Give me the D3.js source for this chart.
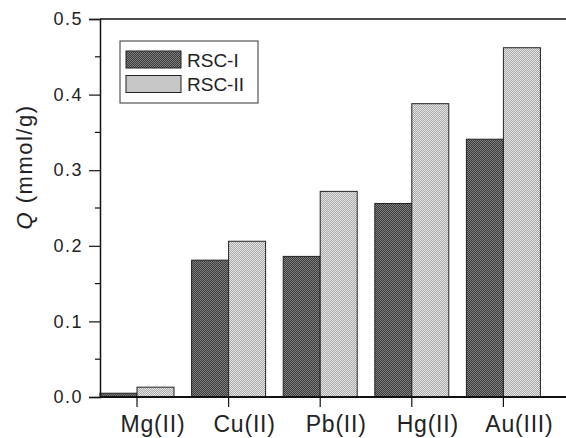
<!DOCTYPE html>
<html>
<head>
<meta charset="utf-8">
<script src="https://cdn.jsdelivr.net/npm/d3@7"></script>
<style>
  body { margin: 0; background: #fff; }
  svg { display: block; font-family: "Liberation Sans", Arial, sans-serif; }
</style>
</head>
<body>
<svg id="chart" width="566" height="438"></svg>
<script>
// data
var metals = ["Mg(II)", "Cu(II)", "Pb(II)", "Hg(II)", "Au(III)"];
var rsc1 = [0.005, 0.181, 0.186, 0.256, 0.341];
var rsc2 = [0.013, 0.206, 0.272, 0.388, 0.462];
var seriesNames = ["RSC-I", "RSC-II"];
var yTicks = [0, 0.1, 0.2, 0.3, 0.4, 0.5];
var yMinor = [0.05, 0.15, 0.25, 0.35, 0.45];

var svg = d3.select("svg#chart");

// note: "top" is taken by window.top, so plot edges get their own names
var plotLeft = 100, plotTop = 19, plotBottom = 397, plotRight = 566;
var barW = 37;

var y = d3.scaleLinear().domain([0, 0.5]).range([plotBottom, plotTop]);
var x = d3.scaleLinear().domain([0, metals.length - 1]).range([137, 503.4]);

// halftone-ish fills, like the scanned print
var defs = svg.append("defs");
function dither(id, c1, c2){
  var p = defs.append("pattern")
    .attr("id", id)
    .attr("patternUnits", "userSpaceOnUse")
    .attr("width", 2).attr("height", 2);
  p.append("rect").attr("width", 2).attr("height", 2).attr("fill", c1);
  p.append("rect").attr("width", 1).attr("height", 1).attr("fill", c2);
  p.append("rect").attr("x", 1).attr("y", 1).attr("width", 1).attr("height", 1).attr("fill", c2);
}
dither("darkFill", "#3a3a3a", "#808080");
dither("lightFill", "#a8a8a8", "#e6e6e6");
var fills = ["url(#darkFill)", "url(#lightFill)"];

// bars
var groups = [rsc1, rsc2];
groups.forEach(function(vals, s){
  svg.selectAll("rect.bar" + s)
    .data(vals)
    .enter().append("rect")
    .attr("class", "bar" + s)
    .attr("x", (d, i) => x(i) + (s - 1) * barW)
    .attr("y", d => y(d))
    .attr("width", barW)
    .attr("height", d => y(0) - y(d))
    .attr("fill", fills[s])
    .attr("stroke", "#222")
    .attr("stroke-width", 1);
});

// frame: top and bottom run off the right edge
svg.append("line")
  .attr("x1", plotLeft).attr("x2", plotRight).attr("y1", plotTop).attr("y2", plotTop)
  .attr("stroke", "#111").attr("stroke-width", 1.5);
svg.append("line")
  .attr("x1", plotLeft).attr("x2", plotRight).attr("y1", plotBottom).attr("y2", plotBottom)
  .attr("stroke", "#111").attr("stroke-width", 2);

// y axis
var yAxis = svg.append("g")
  .attr("transform", "translate(" + plotLeft + ",0)")
  .call(d3.axisLeft(y).tickValues(yTicks).tickFormat(d3.format(".1f")).tickSize(11).tickPadding(6));
yAxis.select(".domain").attr("stroke", "#111").attr("stroke-width", 1.5);
yAxis.selectAll(".tick line").attr("stroke", "#111").attr("stroke-width", 1.2);
yAxis.selectAll(".tick text")
  .attr("font-size", 18)
  .attr("letter-spacing", 1.5)
  .attr("fill", "#222")
  .attr("font-family", "Liberation Sans, Arial, sans-serif");

svg.selectAll("line.yminor")
  .data(yMinor)
  .enter().append("line")
  .attr("class", "yminor")
  .attr("x1", plotLeft - 5).attr("x2", plotLeft)
  .attr("y1", d => y(d)).attr("y2", d => y(d))
  .attr("stroke", "#111").attr("stroke-width", 1.2);

// x ticks + labels (labels sit a bit right of the ticks in the original)
svg.selectAll("line.xtick")
  .data(metals)
  .enter().append("line")
  .attr("class", "xtick")
  .attr("x1", (d, i) => x(i)).attr("x2", (d, i) => x(i))
  .attr("y1", plotBottom).attr("y2", plotBottom + 10)
  .attr("stroke", "#111").attr("stroke-width", 1.2);

svg.selectAll("text.xlabel")
  .data(metals)
  .enter().append("text")
  .attr("class", "xlabel")
  .attr("x", (d, i) => x(i) + 16)
  .attr("y", 432)
  .attr("text-anchor", "middle")
  .attr("font-size", 23)
  .attr("letter-spacing", 0.8)
  .attr("fill", "#222")
  .text(d => d);

// y title
var yTitle = svg.append("text")
  .attr("transform", "translate(32,167) rotate(-90)")
  .attr("text-anchor", "middle")
  .attr("font-size", 22)
  .attr("letter-spacing", 1.5)
  .attr("fill", "#222");
yTitle.append("tspan").attr("font-style", "italic").text("Q");
yTitle.append("tspan").text(" (mmol/g)");

// legend
var legend = svg.append("g");
legend.append("rect")
  .attr("x", 120).attr("y", 41).attr("width", 138).attr("height", 62)
  .attr("fill", "#fff").attr("stroke", "#333").attr("stroke-width", 1);
var items = legend.selectAll("g.item")
  .data(seriesNames)
  .enter().append("g")
  .attr("class", "item")
  .attr("transform", (d, i) => "translate(0," + (i * 24.5) + ")");
items.append("rect")
  .attr("x", 126).attr("y", 51)
  .attr("width", 55).attr("height", 17)
  .attr("fill", (d, i) => fills[i])
  .attr("stroke", "#222").attr("stroke-width", 1);
items.append("text")
  .attr("x", 187).attr("y", 66.5)
  .attr("font-size", 19)
  .attr("fill", "#222")
  .text(d => d);
</script>
</body>
</html>
